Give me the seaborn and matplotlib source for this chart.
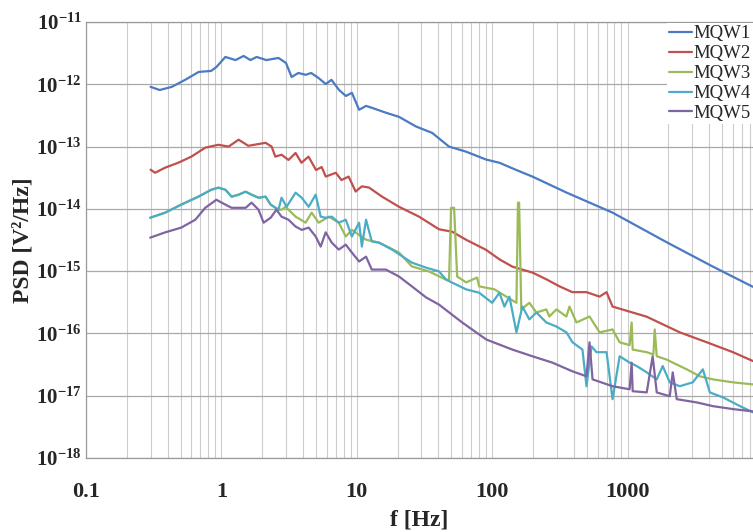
import numpy as np
import pandas as pd
import matplotlib
matplotlib.use("Agg")
import matplotlib.pyplot as plt
import seaborn as sns
from matplotlib.ticker import LogLocator, FixedLocator, FixedFormatter, NullFormatter

# ---------------- data ----------------
series_names = ["MQW1", "MQW2", "MQW3", "MQW4", "MQW5"]

f_mqw1 = [0.30, 0.35, 0.43, 0.54, 0.68, 0.84, 0.92, 1.07, 1.27, 1.46, 1.64, 1.82, 2.15, 2.64,
          3.0, 3.3, 3.7, 4.2, 4.6, 5.2, 5.9, 6.5, 7.4, 8.3, 9.2, 10.4, 11.7, 12.9, 16.4, 20.5,
          27.4, 36, 48, 64, 90, 113, 151, 198, 353, 774, 1950, 4270, 8430]
p_mqw1 = [9.1e-13, 8.1e-13, 9.1e-13, 1.18e-12, 1.58e-12, 1.64e-12, 1.9e-12, 2.75e-12, 2.45e-12,
          2.85e-12, 2.45e-12, 2.75e-12, 2.45e-12, 2.65e-12, 2.2e-12, 1.31e-12, 1.52e-12, 1.42e-12,
          1.52e-12, 1.27e-12, 1.01e-12, 1.18e-12, 8.1e-13, 6.5e-13, 7.3e-13, 3.9e-13, 4.5e-13,
          4.2e-13, 3.5e-13, 3.0e-13, 2.1e-13, 1.66e-13, 1.0e-13, 8.3e-14, 6.2e-14, 5.5e-14,
          4.2e-14, 3.3e-14, 1.83e-14, 8.7e-15, 2.9e-15, 1.18e-15, 5.6e-16]

f_mqw2 = [0.30, 0.324, 0.385, 0.48, 0.60, 0.76, 0.95, 1.13, 1.34, 1.58, 2.12, 2.35, 2.5, 2.78,
          3.13, 3.53, 3.9, 4.4, 5.0, 5.5, 5.9, 7.0, 7.7, 8.7, 9.8, 10.9, 12.3, 15.3, 20.5, 28.8,
          40.5, 50.6, 64, 90, 113, 141, 198, 251, 314, 391, 497, 620, 699, 774, 1380, 2430,
          3850, 6000, 8430]
p_mqw2 = [4.25e-14, 3.8e-14, 4.6e-14, 5.5e-14, 6.9e-14, 9.6e-14, 1.07e-13, 1.0e-13, 1.29e-13,
          1.03e-13, 1.15e-13, 1.0e-13, 6.9e-14, 7.4e-14, 6.1e-14, 7.9e-14, 5.5e-14, 6.9e-14,
          4.2e-14, 4.7e-14, 3.3e-14, 3.8e-14, 2.9e-14, 3.3e-14, 1.9e-14, 2.3e-14, 2.2e-14,
          1.58e-14, 1.08e-14, 7.5e-15, 4.7e-15, 4.3e-15, 3.2e-15, 2.2e-15, 1.55e-15, 1.18e-15,
          9.5e-16, 7.4e-16, 5.7e-16, 4.6e-16, 4.6e-16, 3.9e-16, 4.6e-16, 2.7e-16, 1.86e-16,
          1.04e-16, 7.2e-17, 5.0e-17, 3.6e-17]

f_mqw3 = [0.298, 0.385, 0.505, 0.676, 0.843, 0.95, 1.07, 1.19, 1.34, 1.51, 1.67, 1.88, 2.12,
          2.31, 2.64, 2.78, 2.98, 3.53, 4.19, 4.64, 5.23, 6.21, 7.36, 8.29, 9.19, 11.7, 14.6,
          20.5, 25.5, 34.1, 45.6, 48.0, 49.7, 52.3, 55.1, 64.2, 77.4, 80.1, 104, 127, 151, 155,
          158, 164, 188, 212, 251, 264, 298, 353, 372, 419, 523, 621, 774, 873, 1035, 1071,
          1090, 1384, 1550, 1585, 1641, 1945, 2154, 2735, 3414, 4265, 5998, 8433]
p_mqw3 = [7.2e-15, 8.7e-15, 1.17e-14, 1.57e-14, 2.03e-14, 2.19e-14, 2.03e-14, 1.57e-14, 1.69e-14,
          1.89e-14, 1.69e-14, 1.51e-14, 1.57e-14, 1.17e-14, 9.7e-15, 9.7e-15, 1.08e-14, 7.5e-15,
          6.0e-15, 8.7e-15, 6.0e-15, 7.5e-15, 6.0e-15, 3.6e-15, 4.6e-15, 3.2e-15, 2.87e-15,
          1.99e-15, 1.19e-15, 9.9e-16, 7.3e-16, 7.3e-16, 1.04e-14, 1.04e-14, 8.2e-16, 6.6e-16,
          7.9e-16, 5.7e-16, 5.1e-16, 3.9e-16, 3.1e-16, 1.26e-14, 1.26e-14, 2.43e-16, 3.1e-16,
          2.17e-16, 2.43e-16, 1.87e-16, 2.43e-16, 1.87e-16, 2.7e-16, 1.5e-16, 1.87e-16, 1.04e-16,
          1.16e-16, 7.2e-17, 6.5e-17, 1.5e-16, 5.5e-17, 5.0e-17, 4.6e-17, 1.16e-16, 4.3e-17,
          3.8e-17, 3.4e-17, 2.65e-17, 2.05e-17, 1.83e-17, 1.64e-17, 1.52e-17]

f_mqw4 = [0.298, 0.385, 0.505, 0.676, 0.843, 0.95, 1.07, 1.19, 1.34, 1.51, 1.67, 1.88, 2.12,
          2.31, 2.64, 2.78, 3.03, 3.53, 3.92, 4.41, 4.97, 5.41, 5.89, 6.53, 7.36, 8.29, 9.19,
          10.4, 10.9, 11.7, 12.9, 14.6, 18.2, 25.5, 32.4, 40.5, 45.6, 64.2, 80.1, 100, 113, 123,
          134, 151, 167, 188, 212, 251, 298, 353, 392, 464, 497, 541, 589, 699, 774, 873, 1035,
          1166, 1384, 1641, 1816, 2047, 2427, 3027, 3594, 4049, 5060, 6761, 8433]
p_mqw4 = [7.2e-15, 8.7e-15, 1.17e-14, 1.57e-14, 2.03e-14, 2.19e-14, 2.03e-14, 1.57e-14, 1.69e-14,
          1.89e-14, 1.69e-14, 1.51e-14, 1.57e-14, 1.17e-14, 9.7e-15, 1.51e-14, 1.08e-14, 1.82e-14,
          1.51e-14, 1.08e-14, 1.69e-14, 7.5e-15, 7.2e-15, 7.5e-15, 6.0e-15, 6.7e-15, 3.6e-15,
          6.0e-15, 2.48e-15, 6.7e-15, 3.0e-15, 2.87e-15, 2.22e-15, 1.37e-15, 1.14e-15, 9.9e-16,
          7.3e-16, 5.1e-16, 4.5e-16, 3.1e-16, 4.5e-16, 2.7e-16, 3.9e-16, 1.04e-16, 2.7e-16,
          1.68e-16, 2.17e-16, 1.5e-16, 1.29e-16, 1.04e-16, 7.2e-17, 5.5e-17, 1.42e-17, 6.2e-17,
          5.0e-17, 5.0e-17, 8.8e-18, 4.3e-17, 3.4e-17, 3.0e-17, 2.37e-17, 1.83e-17, 3.0e-17,
          1.64e-17, 1.42e-17, 1.64e-17, 2.65e-17, 1.13e-17, 9.4e-18, 6.8e-18, 5.4e-18]

f_mqw5 = [0.298, 0.385, 0.505, 0.642, 0.76, 0.918, 1.07, 1.19, 1.51, 1.67, 1.88, 2.05, 2.31,
          2.55, 2.78, 3.13, 3.53, 3.92, 4.41, 4.97, 5.41, 5.89, 6.53, 7.36, 8.29, 9.19, 10.4,
          11.7, 12.9, 16.4, 20.5, 25.5, 32.4, 40.5, 60.0, 90.3, 141, 198, 278, 392, 497, 523,
          551, 774, 1035, 1071, 1090, 1384, 1531, 1641, 2047, 2154, 2307, 3243, 4265, 5998, 8433]
p_mqw5 = [3.45e-15, 4.2e-15, 5.0e-15, 6.7e-15, 1.04e-14, 1.4e-14, 1.17e-14, 1.04e-14, 1.04e-14,
          1.26e-14, 9.7e-15, 6.0e-15, 7.2e-15, 9.7e-15, 7.5e-15, 6.7e-15, 5.2e-15, 4.6e-15,
          5.0e-15, 3.6e-15, 2.48e-15, 4.2e-15, 2.87e-15, 2.22e-15, 2.67e-15, 1.99e-15, 1.43e-15,
          1.71e-15, 1.06e-15, 1.06e-15, 8.2e-16, 5.7e-16, 3.8e-16, 2.9e-16, 1.5e-16, 8.0e-17,
          5.5e-17, 4.3e-17, 3.4e-17, 2.46e-17, 2.05e-17, 7.2e-17, 1.83e-17, 1.42e-17, 1.27e-17,
          3.4e-17, 1.18e-17, 1.13e-17, 4.3e-17, 1.13e-17, 9.8e-18, 2.37e-17, 8.8e-18, 7.8e-18,
          6.8e-18, 6.1e-18, 5.6e-18]

x_ticks = [0.1, 1, 10, 100, 1000]
x_tick_labels = ["0.1", "1", "10", "100", "1000"]
y_ticks = [1e-18, 1e-17, 1e-16, 1e-15, 1e-14, 1e-13, 1e-12, 1e-11]
y_tick_labels = [r"$10^{-18}$", r"$10^{-17}$", r"$10^{-16}$", r"$10^{-15}$",
                 r"$10^{-14}$", r"$10^{-13}$", r"$10^{-12}$", r"$10^{-11}$"]

colors = ["#4a7ac4", "#c0504d", "#9bbb59", "#4bacc6", "#8064a2"]

# ---------------- build table ----------------
freqs = [f_mqw1, f_mqw2, f_mqw3, f_mqw4, f_mqw5]
psds = [p_mqw1, p_mqw2, p_mqw3, p_mqw4, p_mqw5]
frames = []
for name, fv, pv in zip(series_names, freqs, psds):
    frames.append(pd.DataFrame({"f": fv, "PSD": pv, "series": name}))
df = pd.concat(frames, ignore_index=True)

# ---------------- style ----------------
sns.set_theme(style="white")
plt.rcParams["font.family"] = ["Liberation Serif", "DejaVu Serif"]
plt.rcParams["mathtext.fontset"] = "custom"
plt.rcParams["mathtext.rm"] = "Liberation Serif:bold"
plt.rcParams["mathtext.it"] = "Liberation Serif:bold"
plt.rcParams["mathtext.bf"] = "Liberation Serif:bold"

fig = plt.figure(figsize=(7.53, 5.32), dpi=100)
ax = fig.add_axes([0.1142, 0.1391, 0.8858, 0.8195])

ax.set_xscale("log")
ax.set_yscale("log")

sns.lineplot(data=df, x="f", y="PSD", hue="series", hue_order=series_names,
             palette=colors, estimator=None, sort=False, linewidth=1.6, ax=ax)

ax.set_xlim(0.1, 8433)
ax.set_ylim(1e-18, 1e-11)

# ticks & grid
ax.xaxis.set_major_locator(FixedLocator(x_ticks))
ax.xaxis.set_major_formatter(FixedFormatter(x_tick_labels))
ax.xaxis.set_minor_locator(LogLocator(base=10, subs=np.arange(2, 10), numticks=20))
ax.xaxis.set_minor_formatter(NullFormatter())
ax.yaxis.set_major_locator(FixedLocator(y_ticks))
ax.yaxis.set_major_formatter(FixedFormatter(y_tick_labels))
ax.yaxis.set_minor_locator(LogLocator(base=10, subs=np.arange(2, 10), numticks=20))
ax.yaxis.set_minor_formatter(NullFormatter())

ax.grid(True, which="both", axis="x", color="#cccccc", linewidth=0.8)
ax.grid(True, which="major", axis="y", color="#a9a9a9", linewidth=0.9)
ax.set_axisbelow(True)

for side in ["left", "top", "bottom"]:
    ax.spines[side].set_color("#9a9a9a")
    ax.spines[side].set_linewidth(0.9)
ax.spines["right"].set_visible(False)

ax.tick_params(axis="x", which="both", length=0, pad=17)
ax.tick_params(axis="y", which="major", length=0, pad=3)
ax.tick_params(axis="y", which="minor", length=2.5, direction="in", color="#9a9a9a")
for lab in ax.get_xticklabels():
    lab.set_fontsize(16)
    lab.set_fontweight("bold")
for lab in ax.get_yticklabels():
    lab.set_fontsize(15)

ax.set_xlabel("f [Hz]", fontsize=17, fontweight="bold", labelpad=6)
ax.set_ylabel("PSD [V²/Hz]", fontsize=17, fontweight="bold", labelpad=2)

handles, labels = ax.get_legend_handles_labels()
leg = ax.legend(handles, labels, loc="upper right", bbox_to_anchor=(1.0, 0.998),
                frameon=True, facecolor="white", edgecolor="none", fancybox=False,
                framealpha=1.0, fontsize=13.5, handlelength=1.2, handletextpad=0.1,
                labelspacing=0.15, borderpad=0.12, borderaxespad=0.0)
for line in leg.get_lines():
    line.set_linewidth(1.6)

fig.savefig("out.png", dpi=100)
